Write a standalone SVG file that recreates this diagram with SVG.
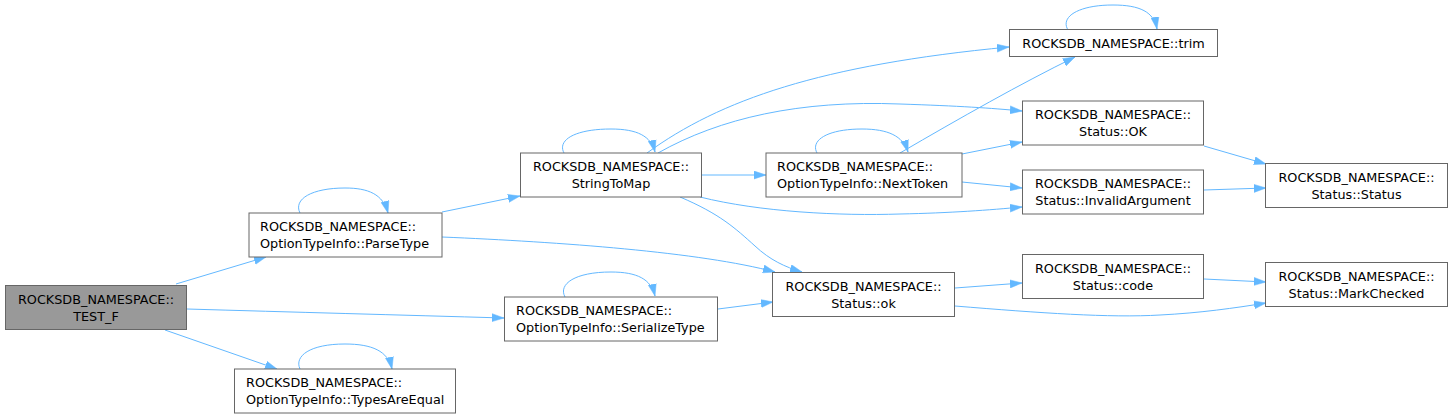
<svg xmlns="http://www.w3.org/2000/svg" width="1453" height="419" viewBox="0 0 1453 419">
<style>
.box{fill:#ffffff;stroke:#666666;stroke-width:1}
.root{fill:#999999;stroke:#666666;stroke-width:1}
text{font-family:"DejaVu Sans","Liberation Sans",sans-serif;font-size:12.8px;fill:#000000}
.c{text-anchor:middle}
.e{fill:none;stroke:#63b8ff;stroke-width:1;marker-end:url(#arr)}
</style>
<defs>
<marker id="arr" markerUnits="userSpaceOnUse" viewBox="0 0 12 9" refX="12" refY="4.5" markerWidth="12" markerHeight="9" orient="auto">
<path d="M0,0.5 L12,4.5 L0,8.5 z" fill="#63b8ff" stroke="#63b8ff" stroke-width="0.5"/>
</marker>
</defs>
<rect width="1453" height="419" fill="#ffffff"/>
<g id="connectors">
<path class="e" d="M176,284 L266,257"/>
<path class="e" d="M187,309 C290,312 400,315 504,318"/>
<path class="e" d="M165,330 L277,369"/>
<path class="e" d="M300,213 C293,199 312,188 345,188 C368,188 383,194 388,213"/>
<path class="e" d="M442,212 L520,196"/>
<path class="e" d="M442,237 C560,242 700,252 775,272"/>
<path class="e" d="M564,153 C557,140 575,129 611,129 C637,129 651,136 655,152"/>
<path class="e" d="M647,153 C720,100 820,65 1009,47"/>
<path class="e" d="M658,153 C720,118 800,100 900,104 C960,106 990,108 1022,111"/>
<path class="e" d="M702,175 L766,175"/>
<path class="e" d="M700,197 C760,212 840,216 900,214 C950,213 990,210 1022,207"/>
<path class="e" d="M680,197 C720,214 735,228 755,246 C770,260 785,267 802,272"/>
<path class="e" d="M817,153 C810,140 828,129 862,129 C888,129 903,136 908,152"/>
<path class="e" d="M900,153 C960,118 1020,84 1075,57"/>
<path class="e" d="M962,154 L1022,142"/>
<path class="e" d="M962,182 L1022,188"/>
<path class="e" d="M1204,146 L1266,164"/>
<path class="e" d="M1204,190 L1266,188"/>
<path class="e" d="M565,297 C558,284 575,272 611,272 C637,272 651,279 655,296"/>
<path class="e" d="M718,309 L773,302"/>
<path class="e" d="M300,369 C294,356 310,344 345,344 C372,344 388,351 392,369"/>
<path class="e" d="M955,288 L1022,283"/>
<path class="e" d="M955,306 C1040,313 1110,318 1160,315 C1200,313 1235,308 1266,303"/>
<path class="e" d="M1204,279 L1266,282"/>
<path class="e" d="M1068,30 C1060,17 1078,5 1113,5 C1140,5 1154,12 1157,29"/>
</g>
<g id="node_test_f">
<rect class="root" x="5.5" y="285.5" width="181" height="44"/>
<text class="c" x="96" y="303.5">ROCKSDB_NAMESPACE::</text>
<text class="c" x="96" y="320.5">TEST_F</text>
</g>
<g id="node_parsetype">
<rect class="box" x="249" y="213" width="193" height="44"/>
<text x="260" y="231">ROCKSDB_NAMESPACE::</text>
<text x="260" y="248">OptionTypeInfo::ParseType</text>
</g>
<g id="node_typesareequal">
<rect class="box" x="234.5" y="369" width="221" height="44"/>
<text x="246" y="387">ROCKSDB_NAMESPACE::</text>
<text x="246" y="404">OptionTypeInfo::TypesAreEqual</text>
</g>
<g id="node_serializetype">
<rect class="box" x="504.5" y="297" width="213" height="44"/>
<text x="516" y="315">ROCKSDB_NAMESPACE::</text>
<text x="516" y="332">OptionTypeInfo::SerializeType</text>
</g>
<g id="node_stringtomap">
<rect class="box" x="520.5" y="153" width="181" height="44"/>
<text class="c" x="611" y="171">ROCKSDB_NAMESPACE::</text>
<text class="c" x="611" y="188">StringToMap</text>
</g>
<g id="node_nexttoken">
<rect class="box" x="766" y="153" width="196" height="44"/>
<text x="777" y="171">ROCKSDB_NAMESPACE::</text>
<text x="777" y="188">OptionTypeInfo::NextToken</text>
</g>
<g id="node_status_ok_lower">
<rect class="box" x="772.5" y="272.5" width="182" height="44"/>
<text class="c" x="863.5" y="290.5">ROCKSDB_NAMESPACE::</text>
<text class="c" x="863.5" y="307.5">Status::ok</text>
</g>
<g id="node_trim">
<rect class="box" x="1009.5" y="29.5" width="208" height="27"/>
<text class="c" x="1113.5" y="47.5">ROCKSDB_NAMESPACE::trim</text>
</g>
<g id="node_status_ok_upper">
<rect class="box" x="1022.5" y="101" width="181" height="44"/>
<text class="c" x="1113" y="119">ROCKSDB_NAMESPACE::</text>
<text class="c" x="1113" y="136">Status::OK</text>
</g>
<g id="node_invalidargument">
<rect class="box" x="1022.5" y="170" width="181" height="44"/>
<text class="c" x="1113" y="188">ROCKSDB_NAMESPACE::</text>
<text class="c" x="1113" y="205">Status::InvalidArgument</text>
</g>
<g id="node_code">
<rect class="box" x="1022.5" y="254.5" width="181" height="44"/>
<text class="c" x="1113" y="272.5">ROCKSDB_NAMESPACE::</text>
<text class="c" x="1113" y="289.5">Status::code</text>
</g>
<g id="node_status_status">
<rect class="box" x="1265.5" y="163.5" width="182" height="44"/>
<text class="c" x="1356.5" y="181.5">ROCKSDB_NAMESPACE::</text>
<text class="c" x="1356.5" y="198.5">Status::Status</text>
</g>
<g id="node_markchecked">
<rect class="box" x="1265.5" y="262.5" width="182" height="44"/>
<text class="c" x="1356.5" y="280.5">ROCKSDB_NAMESPACE::</text>
<text class="c" x="1356.5" y="297.5">Status::MarkChecked</text>
</g>
</svg>
